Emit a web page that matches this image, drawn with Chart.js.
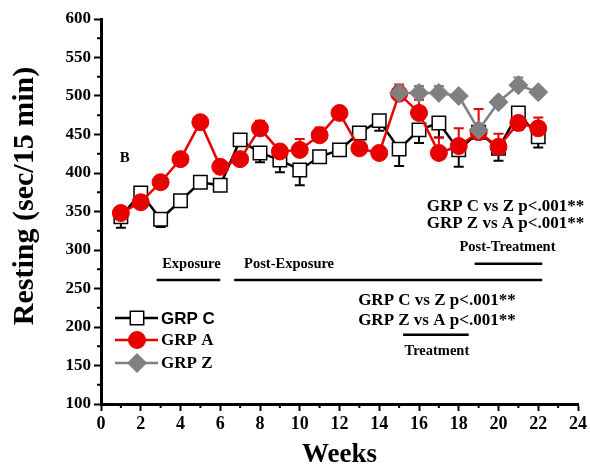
<!DOCTYPE html>
<html><head><meta charset="utf-8">
<script src="https://cdn.jsdelivr.net/npm/chart.js@4.4.1/dist/chart.umd.min.js"></script>
<style>html,body{margin:0;padding:0;background:#fff;}#wrap{width:590px;height:475px;}</style>
</head><body><div id="wrap"><canvas id="c" width="590" height="475"></canvas></div>
<script>
const weeks = [1,2,3,4,5,6,7,8,9,10,11,12,13,14,15,16,17,18,19,20,21,22];
const grpC = [343,374,340,364,388,384,443,426,417,404,421,430,452,468,431,456,465,430,453,432,478,447];
const grpA = [348,362,388,418,466,408,418,458,428,430,449,478,432,426,503,478,426,435,453,434,465,458];
const grpZ = [null,null,null,null,null,null,null,null,null,null,null,null,null,null,504,504,504,500,456,492,514,505];
const errC = [14,5,10,8,6,4,4,12,16,20,8,5,15,13,22,17,19,22,8,16,22,14];
const errA = [4,4,4,4,4,4,4,10,5,14,10,5,5,5,12,17,20,23,30,17,8,14];
const errZ = [null,null,null,null,null,null,null,null,null,null,null,null,null,null,10,9,9,5,5,5,10,5];
const xTicks = [0,2,4,6,8,10,12,14,16,18,20,22,24];
const yTicks = [100,150,200,250,300,350,400,450,500,550,600];

const SERIF = "'Liberation Serif','Times New Roman',serif";
const SANS = "'Liberation Sans',Arial,sans-serif";

function pts(vals){ return weeks.map((w,i)=>({x:w,y:vals[i]})); }

const extras = {
  id:'extras',
  beforeDatasetsDraw(chart){
    const ctx = chart.ctx, xs = chart.scales.x, ys = chart.scales.y;
    const sets = [[grpC,errC,'#000',-1],[grpA,errA,'#e80000',1],[grpZ,errZ,'#808080',1]];
    ctx.save();
    ctx.lineWidth = 2;
    sets.forEach(([v,e,col,dir])=>{
      ctx.strokeStyle = col;
      weeks.forEach((w,i)=>{
        if(v[i]==null||e[i]==null) return;
        const x = xs.getPixelForValue(w);
        const y0 = ys.getPixelForValue(v[i]);
        const y1 = ys.getPixelForValue(v[i]+dir*e[i]);
        ctx.beginPath(); ctx.moveTo(x,y0); ctx.lineTo(x,y1);
        ctx.moveTo(x-5,y1); ctx.lineTo(x+5,y1); ctx.stroke();
      });
    });
    ctx.restore();
  },
  afterDraw(chart){
    const ctx = chart.ctx, xs = chart.scales.x, ys = chart.scales.y;
    const X = v=>xs.getPixelForValue(v), Y = v=>ys.getPixelForValue(v);
    ctx.save();
    // y axis title
    ctx.save();
    ctx.translate(25, 196); ctx.rotate(-Math.PI/2);
    ctx.fillStyle='#000'; ctx.textAlign='center'; ctx.textBaseline='middle';
    ctx.font = "bold 30px "+SERIF;
    ctx.fillText('Resting (sec/15 min)', 0, 0);
    ctx.restore();
    // minor ticks
    ctx.strokeStyle='#000'; ctx.lineWidth=2;
    for(let w=1; w<24; w+=2){ const x=X(w); ctx.beginPath(); ctx.moveTo(x,chart.chartArea.bottom); ctx.lineTo(x,chart.chartArea.bottom+4); ctx.stroke(); }
    for(let v=125; v<600; v+=50){ const y=Y(v); ctx.beginPath(); ctx.moveTo(chart.chartArea.left,y); ctx.lineTo(chart.chartArea.left-4,y); ctx.stroke(); }
    // annotation lines
    ctx.lineWidth = 2.5;
    const hline=(a,b,v)=>{ctx.beginPath();ctx.moveTo(X(a),Y(v));ctx.lineTo(X(b),Y(v));ctx.stroke();};
    hline(2.8,6.0,261); hline(6.7,22.2,261); hline(18.8,22.2,282); hline(15.2,18.5,190);
    // texts
    ctx.fillStyle='#000'; ctx.textBaseline='middle';
    ctx.font = "bold 14.5px "+SERIF; ctx.textAlign='center';
    ctx.fillText('Exposure', X(4.55), Y(282));
    ctx.textAlign='left'; ctx.fillText('Post-Exposure', X(7.2), Y(282));
    ctx.textAlign='center'; ctx.fillText('Post-Treatment', X(20.45), Y(304));
    ctx.fillText('Treatment', X(16.9), Y(169));
    ctx.font = "bold 17px "+SERIF;
    ctx.fillText('GRP C vs Z p<.001**', X(20.35), Y(357));
    ctx.fillText('GRP Z vs A p<.001**', X(20.35), Y(334));
    ctx.fillText('GRP C vs Z p<.001**', X(16.9), Y(234));
    ctx.fillText('GRP Z vs A p<.001**', X(16.9), Y(208));
    ctx.font = "bold 15px "+SERIF; ctx.fillText('B', X(1.2), Y(419));
    // legend
    const leg = [['GRP C','#000','rect',SANS,318,9.5],['GRP A','#e80000','circle',SERIF,340,8.5],['GRP Z','#808080','rectRot',SERIF,363,9.5]];
    leg.forEach(([lab,col,sty,fam,y,r])=>{
      ctx.strokeStyle=col; ctx.lineWidth=2.5;
      ctx.beginPath(); ctx.moveTo(115,y); ctx.lineTo(158,y); ctx.stroke();
      const opts = {pointStyle:sty, rotation:0, radius:r, borderWidth: sty==='rect'?1.5:1};
      ctx.fillStyle = sty==='rect' ? '#fff' : col;
      ctx.strokeStyle = sty==='rect' ? '#000' : col;
      ctx.lineWidth = opts.borderWidth;
      Chart.helpers.drawPoint(ctx, opts, 137, y);
      ctx.fillStyle='#000'; ctx.textAlign='left';
      ctx.font = "bold 17px "+fam;
      ctx.fillText(lab, 161, y+1);
    });
    ctx.restore();
  }
};

new Chart(document.getElementById('c'), {
  type:'line',
  data:{ datasets:[
    {label:'GRP C', data:pts(grpC), borderColor:'#000', borderWidth:2.5, pointStyle:'rect', pointRadius:9.5, pointBackgroundColor:'#fff', pointBorderColor:'#000', pointBorderWidth:1.5, order:2},
    {label:'GRP A', data:pts(grpA), borderColor:'#e80000', borderWidth:2.5, pointStyle:'circle', pointRadius:8.5, pointBackgroundColor:'#e80000', pointBorderColor:'#e80000', pointBorderWidth:1, order:1},
    {label:'GRP Z', data:pts(grpZ), borderColor:'#808080', borderWidth:2.5, pointStyle:'rectRot', pointRadius:9.5, pointBackgroundColor:'#808080', pointBorderColor:'#808080', pointBorderWidth:1, order:0}
  ]},
  options:{
    responsive:false, animation:false, clip:false,
    layout:{padding:{left:0,right:12,top:19,bottom:0}},
    plugins:{legend:{display:false}, tooltip:{enabled:false}},
    scales:{
      x:{type:'linear', min:0, max:24,
        afterBuildTicks(s){ s.ticks = xTicks.map(v=>({value:v})); },
        afterFit(s){ s.height = 71; },
        grid:{display:true, drawOnChartArea:false, tickLength:7, tickWidth:2, tickColor:'#000'},
        border:{display:true, width:3, color:'#000'},
        ticks:{color:'#000', padding:3, maxRotation:0, autoSkip:false, font:{family:SERIF, size:18, weight:'bold'}},
        title:{display:true, text:'Weeks', color:'#000', padding:{top:2}, font:{family:SERIF, size:27, weight:'bold'}}
      },
      y:{type:'linear', min:100, max:600,
        afterBuildTicks(s){ s.ticks = yTicks.map(v=>({value:v})); },
        afterFit(s){ s.width = 101; },
        grid:{display:true, drawOnChartArea:false, tickLength:7, tickWidth:2, tickColor:'#000'},
        border:{display:true, width:3, color:'#000'},
        ticks:{color:'#000', padding:3, autoSkip:false, font:{family:SERIF, size:17, weight:'bold'}},
        title:{display:false}
      }
    }
  },
  plugins:[extras]
});
</script></body></html>
